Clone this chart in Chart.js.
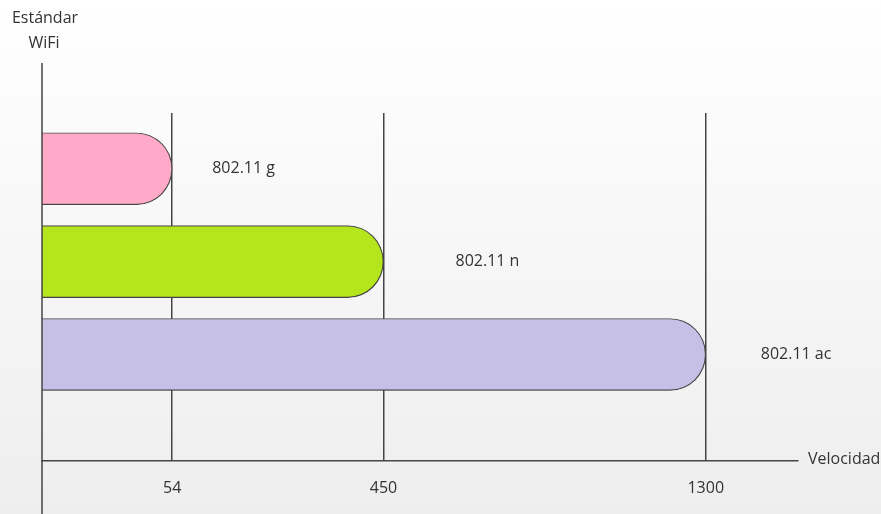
<!DOCTYPE html>
<html>
<head>
<meta charset="utf-8">
<title>Estándar WiFi</title>
<script src="https://cdn.jsdelivr.net/npm/chart.js@4/dist/chart.umd.min.js"></script>
<style>
body{margin:0;background:#fff;}
</style>
</head>
<body>
<canvas id="myChart" width="881" height="514"></canvas>
<script>
'use strict';
let standards = ['802.11 g', '802.11 n', '802.11 ac'];
let speeds = [54, 450, 1300];
let tickValues = [54, 450, 1300];
let barColors = ['#ffaac8', '#b5e51d', '#c7c0e6'];

// the picture is not to scale: each speed gets its own spot on the axis
let stopValues = [0, 54, 450, 1300, 1400];
let stopPos = [0, 0.1722, 0.4517, 0.878, 1];
let labelGap = [40, 72, 55];

let fontName = "'Open Sans', sans-serif";
let textColor = '#333';

class PiecewiseScale extends Chart.LinearScale {
    getPixelForValue(value) {
        let v = Number(value);
        if (isNaN(v)) return NaN;
        let i = 0;
        while (i < stopValues.length - 2 && v > stopValues[i + 1]) i++;
        let t = (v - stopValues[i]) / (stopValues[i + 1] - stopValues[i]);
        let frac = stopPos[i] + t * (stopPos[i + 1] - stopPos[i]);
        return this.getPixelForDecimal(frac);
    }
    getValueForPixel(pixel) {
        let frac = this.getDecimalForPixel(pixel);
        let i = 0;
        while (i < stopPos.length - 2 && frac > stopPos[i + 1]) i++;
        let t = (frac - stopPos[i]) / (stopPos[i + 1] - stopPos[i]);
        return stopValues[i] + t * (stopValues[i + 1] - stopValues[i]);
    }
}
PiecewiseScale.id = 'piecewise';
PiecewiseScale.defaults = Chart.LinearScale.defaults;
Chart.register(PiecewiseScale);

let extras = {
    id: 'extras',
    beforeDraw(chart) {
        let ctx = chart.ctx;
        let g = ctx.createLinearGradient(0, 0, 0, chart.height);
        g.addColorStop(0, '#ffffff');
        g.addColorStop(1, '#eeeeee');
        ctx.save();
        ctx.fillStyle = g;
        ctx.fillRect(0, 0, chart.width, chart.height);
        ctx.restore();
    },
    beforeDatasetsDraw(chart) {
        let ctx = chart.ctx;
        ctx.save();
        ctx.shadowColor = 'rgba(0,0,0,0.25)';
        ctx.shadowBlur = 3;
        ctx.shadowOffsetX = 1;
        ctx.shadowOffsetY = 2;
    },
    afterDatasetsDraw(chart) {
        let ctx = chart.ctx;
        ctx.restore();
        let meta = chart.getDatasetMeta(0);
        ctx.save();
        ctx.font = '16px ' + fontName;
        ctx.fillStyle = textColor;
        ctx.textBaseline = 'middle';
        ctx.textAlign = 'left';
        for (let i = 0; i < meta.data.length; i++) {
            let bar = meta.data[i];
            ctx.fillText(standards[i], bar.x + labelGap[i], bar.y);
        }
        ctx.restore();
    },
    afterDraw(chart) {
        let ctx = chart.ctx;
        let area = chart.chartArea;
        ctx.save();
        // vertical axis line
        ctx.strokeStyle = '#454545';
        ctx.lineWidth = 1.5;
        ctx.beginPath();
        ctx.moveTo(area.left, 63);
        ctx.lineTo(area.left, chart.height);
        ctx.stroke();
        ctx.font = '16px ' + fontName;
        ctx.fillStyle = textColor;
        ctx.textAlign = 'center';
        ctx.textBaseline = 'middle';
        ctx.fillText('Estándar', 45, 18);
        ctx.fillText('WiFi', 44, 43);
        ctx.textAlign = 'left';
        ctx.fillText('Velocidad', area.right + 10, area.bottom - 1);
        ctx.restore();
    }
};

let ctx = document.getElementById('myChart').getContext('2d');
let myChart = new Chart(ctx, {
    type: 'bar',
    data: {
        datasets: [{
            data: speeds.map((s, i) => ({ x: s, y: i })),
            backgroundColor: barColors,
            borderColor: '#555',
            borderWidth: 1.2,
            borderRadius: { topRight: 40, bottomRight: 40 },
            barThickness: 72
        }]
    },
    options: {
        responsive: false,
        animation: false,
        indexAxis: 'y',
        layout: { padding: { left: 42, right: 83, top: 113, bottom: -2 } },
        plugins: {
            legend: { display: false },
            tooltip: { enabled: false }
        },
        scales: {
            x: {
                type: 'piecewise',
                min: 0,
                max: 1400,
                z: 1,
                afterBuildTicks: axis => {
                    axis.ticks = tickValues.map(v => ({ value: v }));
                },
                grid: { color: '#454545', lineWidth: 1.5, drawTicks: false },
                border: { color: '#454545', width: 1.5 },
                ticks: {
                    padding: 18,
                    color: textColor,
                    font: { family: fontName, size: 16 },
                    callback: v => String(v)
                }
            },
            y: {
                type: 'linear',
                reverse: true,
                offset: false,
                min: -0.6,
                max: 3.145,
                display: false
            }
        }
    },
    plugins: [extras]
});
</script>
</body>
</html>
